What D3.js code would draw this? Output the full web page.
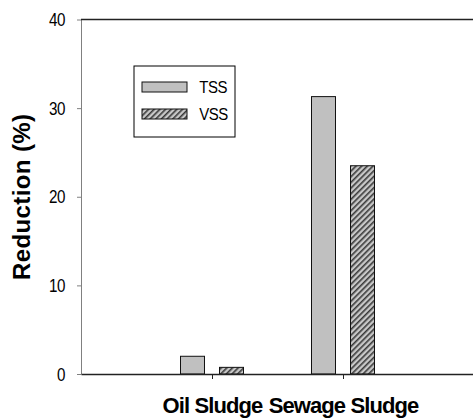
<!DOCTYPE html>
<html>
<head>
<meta charset="utf-8">
<script src="https://cdn.jsdelivr.net/npm/d3@7"></script>
<style>
  body { margin: 0; background: #fff; }
  text { font-family: "Liberation Sans", Arial, sans-serif; }
</style>
</head>
<body>
<div id="wrapper"></div>
<script>
// data
const categories = ["Oil Sludge", "Sewage Sludge"];
const seriesNames = ["TSS", "VSS"];
const tssValues = [2.0, 31.3];
const vssValues = [0.75, 23.5];
const yTicks = [0, 10, 20, 30, 40];

function buildPlot() {
    const dimension = {
        width: 473,
        height: 419,
        margin: { top: 19.5, left: 81, bottom: 45, right: -1 }
    };
    dimension.boundedWidth = dimension.width - dimension.margin.left - dimension.margin.right;
    dimension.boundedHeight = dimension.height - dimension.margin.top - dimension.margin.bottom;

    const rows = categories.map((c, i) => ({ cat: c, TSS: tssValues[i], VSS: vssValues[i] }));

    const svg = d3.select("#wrapper").append("svg")
        .attr("width", dimension.width)
        .attr("height", dimension.height);

    // hatch pattern for VSS
    const defs = svg.append("defs");
    const pat = defs.append("pattern")
        .attr("id", "hatch")
        .attr("patternUnits", "userSpaceOnUse")
        .attr("width", 4)
        .attr("height", 4)
        .attr("patternTransform", "rotate(45)");
    pat.append("rect").attr("width", 4).attr("height", 4).attr("fill", "#c8c8c8");
    pat.append("rect").attr("width", 1.6).attr("height", 4).attr("fill", "#3a3a3a");

    const bounded = svg.append("g")
        .attr("transform", `translate(${dimension.margin.left}, ${dimension.margin.top})`);

    const xScaler = d3.scalePoint()
        .domain(categories)
        .range([0, dimension.boundedWidth])
        .padding(1);

    const innerScaler = d3.scaleBand() // TSS / VSS inside a group
        .domain(seriesNames)
        .range([-31.5, 31.5])
        .paddingInner(0.385);

    const yScaler = d3.scaleLinear()
        .domain([0, 40])
        .range([dimension.boundedHeight, 0]);

    const fills = { TSS: "#c0c0c0", VSS: "url(#hatch)" };

    // bars
    const groups = bounded.selectAll("g.group")
        .data(rows)
        .join("g")
        .attr("class", "group")
        .attr("transform", d => `translate(${xScaler(d.cat)}, 0)`);

    groups.selectAll("rect")
        .data(d => seriesNames.map(s => ({ key: s, value: d[s] })))
        .join("rect")
        .attr("x", d => innerScaler(d.key))
        .attr("width", innerScaler.bandwidth())
        .attr("y", d => yScaler(d.value))
        .attr("height", d => yScaler(0) - yScaler(d.value))
        .attr("fill", d => fills[d.key])
        .attr("stroke", "#111")
        .attr("stroke-width", 1);

    // y axis
    const yAxis = d3.axisLeft(yScaler)
        .tickValues(yTicks)
        .tickSize(4)
        .tickSizeOuter(0)
        .tickPadding(12);
    const yG = bounded.append("g").call(yAxis);
    yG.select(".domain").attr("stroke", "#808080");
    yG.selectAll(".tick line").attr("stroke", "#808080");
    const squeeze = 0.8; // tick numbers are narrow in the original
    yG.selectAll(".tick text")
        .style("font-size", "19px")
        .style("letter-spacing", "-0.5px")
        .attr("x", -16 / squeeze)
        .attr("transform", `scale(${squeeze}, 1)`)
        .attr("fill", "#000");

    // x axis
    const xAxis = d3.axisBottom(xScaler)
        .tickSize(5)
        .tickSizeOuter(0)
        .tickPadding(18);
    const xG = bounded.append("g")
        .attr("transform", `translate(0, ${dimension.boundedHeight})`)
        .call(xAxis);
    xG.select(".domain").attr("stroke", "#222").attr("stroke-width", 1.5);
    xG.selectAll(".tick line").attr("stroke", "#222");
    xG.selectAll(".tick text")
        .style("font-size", "22px")
        .style("font-weight", "bold")
        .style("letter-spacing", "-0.9px")
        .attr("fill", "#000");

    // top frame line
    bounded.append("line")
        .attr("x1", 0)
        .attr("x2", dimension.boundedWidth)
        .attr("y1", yScaler(40))
        .attr("y2", yScaler(40))
        .attr("stroke", "#222")
        .attr("stroke-width", 1.5);

    // y label
    svg.append("text")
        .attr("transform", `translate(30, ${dimension.margin.top + yScaler(20)}) rotate(-90)`)
        .attr("text-anchor", "middle")
        .style("font-size", "24px")
        .style("font-weight", "bold")
        .style("letter-spacing", "0.4px")
        .text("Reduction (%)");

    // legend
    const legend = svg.append("g").attr("transform", "translate(134, 66)");
    legend.append("rect")
        .attr("width", 101)
        .attr("height", 71)
        .attr("fill", "#fff")
        .attr("stroke", "#000");
    seriesNames.forEach((s, i) => {
        const row = legend.append("g").attr("transform", `translate(8, ${16 + i * 27})`);
        row.append("rect")
            .attr("width", 45)
            .attr("height", 10)
            .attr("fill", fills[s])
            .attr("stroke", "#111");
        row.append("text")
            .attr("x", 65)
            .attr("y", 11)
            .style("font-size", "17px")
            .style("letter-spacing", "-0.5px")
            .attr("transform", "scale(0.88, 1)")
            .text(s);
    });
}

buildPlot();
</script>
</body>
</html>
